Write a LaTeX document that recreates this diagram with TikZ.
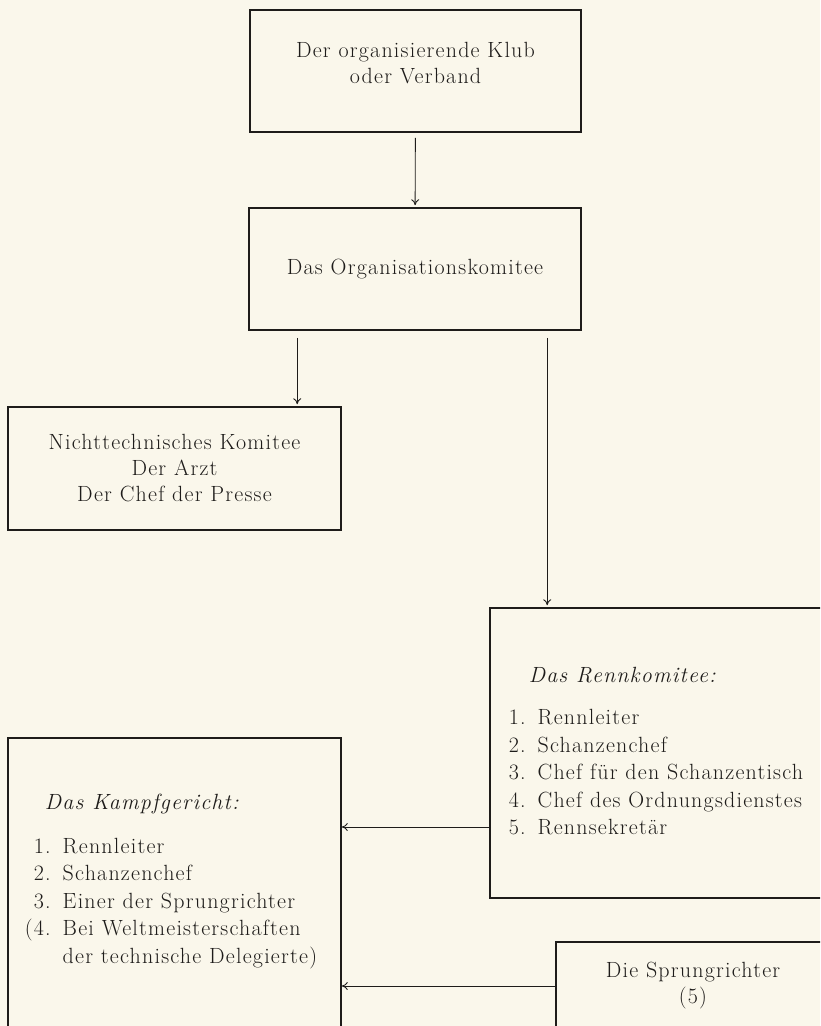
\documentclass[tikz,border=0pt]{standalone}
\usepackage{fontspec}
\setmainfont{Latin Modern Roman}[LetterSpace=5.5]
\usetikzlibrary{arrows.meta,positioning}
\definecolor{paper}{RGB}{250,247,235}
\definecolor{ink}{RGB}{30,28,26}
\tikzset{
  box/.style={draw=ink, line width=1.6pt, align=center, inner sep=0pt, text=ink},
  arr/.style={draw=ink, line width=0.9pt, -{To[length=6pt,width=8pt]}, shorten >=2pt},
}
\begin{document}
\begin{tikzpicture}[x=1pt,y=-1pt,font=\fontsize{22}{26}\selectfont]
        \useasboundingbox (0,0) rectangle (820,1026);
        \fill[paper] (0,0) rectangle (820,1026);
        \clip (0,0) rectangle (820,1026);

        % Top of the chart
        \node[box, minimum width=331pt, minimum height=122pt] (klub) at (415.5,71) {Der organisierende Klub\\oder Verband\rule[-16pt]{0pt}{0pt}};
        \node[box, minimum width=332pt, minimum height=122pt] (orga) at (415,269) {Das Organisationskomitee};
        \node[box, minimum width=333pt, minimum height=123pt] (nicht) at (174.5,468.5) {Nichttechnisches Komitee\\Der Arzt\\Der Chef der Presse};

        % Committees
        \node[box, minimum width=340pt, minimum height=290pt, font=\fontsize{22}{27.5}\selectfont] (renn) at (660,753) {%
          \begin{tabular}{@{}r@{\hspace{12pt}}l@{\hspace{8pt}}}
            \multicolumn{2}{@{\hspace{20pt}}l@{}}{\textit{Das Rennkomitee:}}\\[15pt]
            1. & Rennleiter\\
            2. & Schanzenchef\\
            3. & Chef für den Schanzentisch\\
            4. & Chef des Ordnungsdienstes\\
            5. & Rennsekretär
          \end{tabular}};
        \node[box, minimum width=333pt, minimum height=302pt, font=\fontsize{22}{27.5}\selectfont] (kampf) at (174.5,889) {%
          \begin{tabular}{@{}r@{\hspace{12pt}}l@{\hspace{7pt}}}
            \multicolumn{2}{@{\hspace{20pt}}l@{}}{\textit{Das Kampfgericht:}}\\[16pt]
            1. & Rennleiter\\
            2. & Schanzenchef\\
            3. & Einer der Sprungrichter\\
            (4. & Bei Weltmeisterschaften\\
                & der technische Delegierte)\\[16pt]
          \end{tabular}};
        \node[box, minimum width=274pt, minimum height=88pt] (sprung) at (693,986) {Die Sprungrichter\\(5)};

        % Connectors
        \coordinate (o1) at ([xshift=49pt]orga.south west);
        \coordinate (o2) at ([xshift=299pt]orga.south west);
        \coordinate (r1) at ([yshift=-74pt]renn.west);
        \draw[arr, shorten <=5pt] (klub) -- (orga);
        \draw[arr, shorten <=7pt] (o1) -- (o1 |- nicht.north);
        \draw[arr, shorten <=7pt] (o2) -- (o2 |- renn.north);
        \draw[arr, shorten >=0pt] (r1) -- (r1 -| kampf.east);
        \draw[arr, shorten >=0pt] (sprung.west) -- (sprung.west -| kampf.east);
    \end{tikzpicture}
\end{document}
